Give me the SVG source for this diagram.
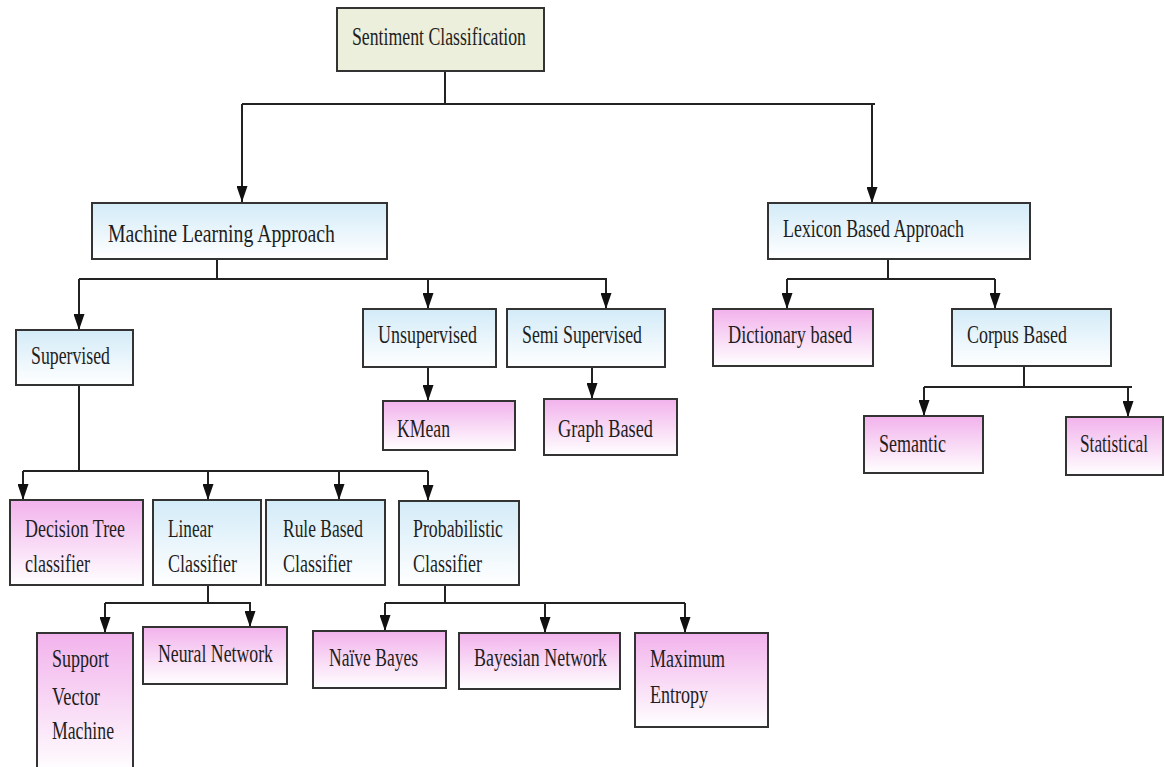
<svg xmlns="http://www.w3.org/2000/svg" width="1165" height="767" viewBox="0 0 1165 767">
<defs>
<linearGradient id="gBlue" x1="0" y1="0" x2="0" y2="1">
<stop offset="0" stop-color="#d3ebf8"/>
<stop offset="1" stop-color="#ffffff"/>
</linearGradient>
<linearGradient id="gPink" x1="0" y1="0" x2="0" y2="1">
<stop offset="0" stop-color="#f2b2ec"/>
<stop offset="1" stop-color="#ffffff"/>
</linearGradient>
<marker id="arr" viewBox="0 0 16 11" refX="16" refY="5.5" markerWidth="16" markerHeight="11" markerUnits="userSpaceOnUse" orient="auto">
<path d="M0,0 L16,5.5 L0,11 Z" fill="#111"/>
</marker>
<style>
rect{stroke:#333;stroke-width:2}
.top{fill:#ebefdb}
.blue{fill:url(#gBlue)}
.pink{fill:url(#gPink)}
text{font-family:"Liberation Serif","Times New Roman",serif;font-size:26px;fill:#1e1e1e}
.ln{fill:none;stroke:#222;stroke-width:2}
.ar{fill:none;stroke:#222;stroke-width:2;marker-end:url(#arr)}
</style>
</defs>
<rect width="1165" height="767" fill="#ffffff" style="stroke:none"/>

<g id="connectors">
<path class="ln" d="M445,71 V104 M242,104 H875"/>
<path class="ar" d="M242,104 V202"/>
<path class="ar" d="M872,104 V203"/>
<path class="ln" d="M217,259 V279 M79,279 H607"/>
<path class="ar" d="M79,279 V330"/>
<path class="ar" d="M428,279 V309"/>
<path class="ar" d="M606,279 V309"/>
<path class="ar" d="M428,367 V401"/>
<path class="ar" d="M592,367 V399"/>
<path class="ln" d="M888,259 V279 M787,279 H995"/>
<path class="ar" d="M787,279 V309"/>
<path class="ar" d="M995,279 V309"/>
<path class="ln" d="M1024,366 V387 M924,387 H1132"/>
<path class="ar" d="M924,387 V416"/>
<path class="ar" d="M1128,387 V417"/>
<path class="ln" d="M79,385 V471 M23,471 H428"/>
<path class="ar" d="M23,471 V500"/>
<path class="ar" d="M208,471 V500"/>
<path class="ar" d="M339,471 V500"/>
<path class="ar" d="M428,471 V501"/>
<path class="ln" d="M208,585 V603 M105,603 H251"/>
<path class="ar" d="M105,603 V633"/>
<path class="ar" d="M250,603 V627"/>
<path class="ln" d="M445,585 V603 M385,603 H685"/>
<path class="ar" d="M385,603 V631"/>
<path class="ar" d="M545,603 V633"/>
<path class="ar" d="M685,603 V633"/>
</g>

<g id="n-sentiment"><rect class="top" x="337" y="8" width="207" height="63"/><text x="352" y="45" textLength="174" lengthAdjust="spacingAndGlyphs">Sentiment Classification</text></g>
<g id="n-ml"><rect class="blue" x="92" y="203" width="295" height="56"/><text x="108" y="242" textLength="227" lengthAdjust="spacingAndGlyphs">Machine Learning Approach</text></g>
<g id="n-lexicon"><rect class="blue" x="768" y="203" width="262" height="56"/><text x="783" y="237" textLength="181" lengthAdjust="spacingAndGlyphs">Lexicon Based Approach</text></g>
<g id="n-supervised"><rect class="blue" x="16" y="330" width="117" height="55"/><text x="31" y="364" textLength="79" lengthAdjust="spacingAndGlyphs">Supervised</text></g>
<g id="n-unsupervised"><rect class="blue" x="363" y="309" width="133" height="58"/><text x="378" y="343" textLength="99" lengthAdjust="spacingAndGlyphs">Unsupervised</text></g>
<g id="n-semi"><rect class="blue" x="507" y="309" width="158" height="58"/><text x="522" y="343" textLength="120" lengthAdjust="spacingAndGlyphs">Semi Supervised</text></g>
<g id="n-kmean"><rect class="pink" x="383" y="401" width="132" height="49"/><text x="397" y="437" textLength="53" lengthAdjust="spacingAndGlyphs">KMean</text></g>
<g id="n-graph"><rect class="pink" x="544" y="399" width="133" height="56"/><text x="558" y="437" textLength="95" lengthAdjust="spacingAndGlyphs">Graph Based</text></g>
<g id="n-dictionary"><rect class="pink" x="713" y="309" width="160" height="57"/><text x="728" y="343" textLength="124" lengthAdjust="spacingAndGlyphs">Dictionary based</text></g>
<g id="n-corpus"><rect class="blue" x="952" y="309" width="159" height="57"/><text x="967" y="343" textLength="100" lengthAdjust="spacingAndGlyphs">Corpus Based</text></g>
<g id="n-semantic"><rect class="pink" x="864" y="416" width="119" height="57"/><text x="879" y="452" textLength="67" lengthAdjust="spacingAndGlyphs">Semantic</text></g>
<g id="n-statistical"><rect class="pink" x="1066" y="417" width="97" height="58"/><text x="1080" y="452" textLength="68" lengthAdjust="spacingAndGlyphs">Statistical</text></g>
<g id="n-decision"><rect class="pink" x="10" y="500" width="133" height="85"/><text x="25" y="537" textLength="100" lengthAdjust="spacingAndGlyphs">Decision Tree</text><text x="25" y="572" textLength="65" lengthAdjust="spacingAndGlyphs">classifier</text></g>
<g id="n-linear"><rect class="blue" x="153" y="500" width="108" height="85"/><text x="168" y="537" textLength="45" lengthAdjust="spacingAndGlyphs">Linear</text><text x="168" y="572" textLength="69" lengthAdjust="spacingAndGlyphs">Classifier</text></g>
<g id="n-rule"><rect class="blue" x="266" y="500" width="119" height="85"/><text x="283" y="537" textLength="80" lengthAdjust="spacingAndGlyphs">Rule Based</text><text x="283" y="572" textLength="69" lengthAdjust="spacingAndGlyphs">Classifier</text></g>
<g id="n-probabilistic"><rect class="blue" x="399" y="501" width="120" height="84"/><text x="413" y="537" textLength="90" lengthAdjust="spacingAndGlyphs">Probabilistic</text><text x="413" y="572" textLength="69" lengthAdjust="spacingAndGlyphs">Classifier</text></g>
<g id="n-svm"><rect class="pink" x="37" y="633" width="96" height="140"/><text x="52" y="667" textLength="57" lengthAdjust="spacingAndGlyphs">Support</text><text x="52" y="705" textLength="48" lengthAdjust="spacingAndGlyphs">Vector</text><text x="52" y="739" textLength="62" lengthAdjust="spacingAndGlyphs">Machine</text></g>
<g id="n-neural"><rect class="pink" x="143" y="627" width="144" height="57"/><text x="158" y="662" textLength="115" lengthAdjust="spacingAndGlyphs">Neural Network</text></g>
<g id="n-naive"><rect class="pink" x="313" y="631" width="133" height="57"/><text x="329" y="666" textLength="89" lengthAdjust="spacingAndGlyphs">Naïve Bayes</text></g>
<g id="n-bayesian"><rect class="pink" x="459" y="633" width="161" height="56"/><text x="474" y="666" textLength="133" lengthAdjust="spacingAndGlyphs">Bayesian Network</text></g>
<g id="n-maxent"><rect class="pink" x="635" y="633" width="133" height="94"/><text x="650" y="667" textLength="75" lengthAdjust="spacingAndGlyphs">Maximum</text><text x="650" y="703" textLength="58" lengthAdjust="spacingAndGlyphs">Entropy</text></g>
</svg>
